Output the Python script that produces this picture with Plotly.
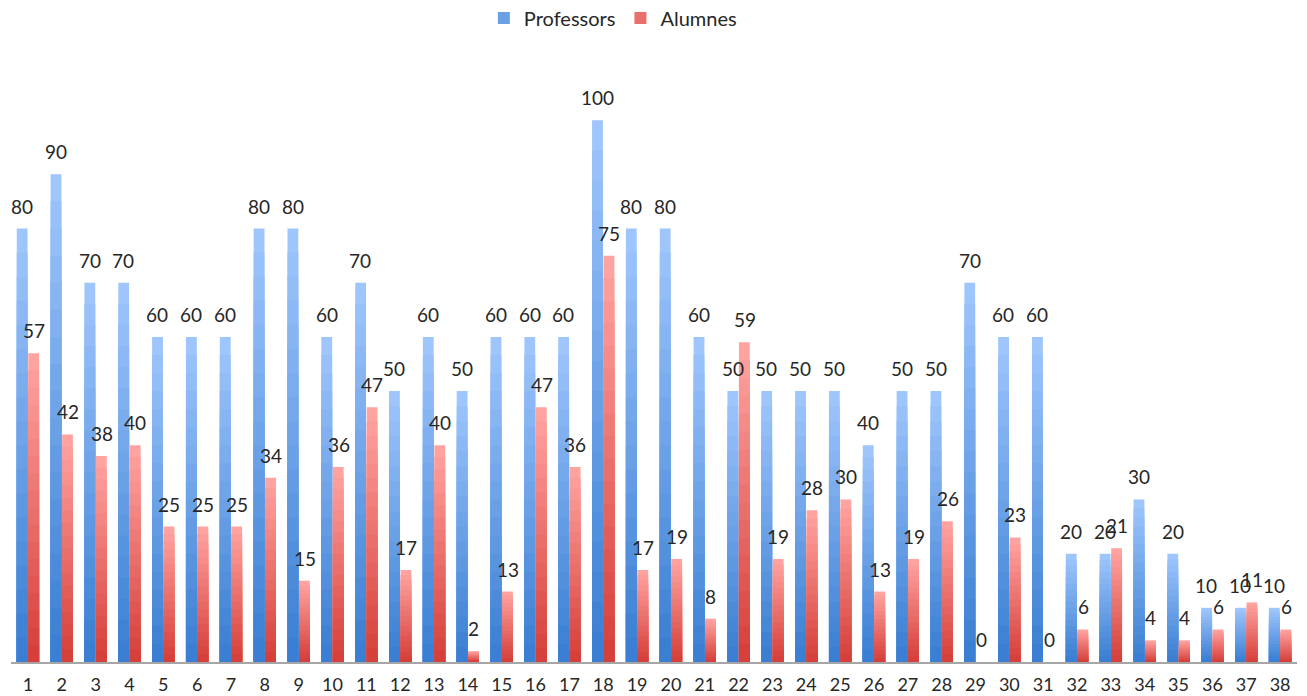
import plotly.graph_objects as go

categories = [str(i) for i in range(1, 39)]
professors = [80, 90, 70, 70, 60, 60, 60, 80, 80, 60, 70, 50, 60, 50, 60, 60, 60, 100, 80, 80,
              60, 50, 50, 50, 50, 40, 50, 50, 70, 60, 60, 20, 20, 30, 20, 10, 10, 10]
alumnes = [57, 42, 38, 40, 25, 25, 25, 34, 15, 36, 47, 17, 40, 2, 13, 47, 36, 75, 17, 19,
           8, 59, 19, 28, 30, 13, 19, 26, 0, 23, 0, 6, 21, 4, 4, 6, 11, 6]
series_names = ["Professors", "Alumnes"]

FONT = "Lato"
TEXT_COLOR = "#262626"
STEPS = 18


def lerp(c1, c2, t):
    a = [int(c1[i:i + 2], 16) for i in (1, 3, 5)]
    b = [int(c2[i:i + 2], 16) for i in (1, 3, 5)]
    return "rgb(%d,%d,%d)" % tuple(round(a[j] + (b[j] - a[j]) * t) for j in range(3))


styles = {
    "Professors": dict(top="#9ec5fc", bottom="#3a7fd3", group="p", shift=-6),
    "Alumnes": dict(top="#ffa3a0", bottom="#d6403a", group="a", shift=6),
}

fig = go.Figure()
for name, vals in zip(series_names, [professors, alumnes]):
    st = styles[name]
    for k in range(STEPS):
        frac = (STEPS - k) / STEPS
        color = lerp(st["top"], st["bottom"], k / (STEPS - 1))
        fig.add_trace(go.Bar(
            x=categories,
            y=[v * frac for v in vals],
            name=name,
            offsetgroup=st["group"],
            legendgroup=name,
            showlegend=(k == STEPS // 2),
            marker=dict(color=color, line=dict(width=0)),
            hoverinfo="skip",
        ))

annotations = []
for name, vals in zip(series_names, [professors, alumnes]):
    st = styles[name]
    for idx, v in enumerate(vals):
        annotations.append(dict(
            x=idx, y=v, xref="x", yref="y", text=str(v), showarrow=False,
            yanchor="bottom", yshift=9, xshift=st["shift"],
            font=dict(family=FONT, size=19, color=TEXT_COLOR),
        ))

fig.update_layout(
    width=1307, height=696,
    margin=dict(l=11, r=10, t=66, b=34, autoexpand=False),
    paper_bgcolor="white", plot_bgcolor="white",
    barmode="group", bargap=0.32, bargroupgap=0.06,
    font=dict(family=FONT, size=18, color=TEXT_COLOR),
    legend=dict(orientation="h", x=0.468, xanchor="center",
                yref="container", y=1 - 18 / 696, yanchor="middle",
                font=dict(family=FONT, size=20, color=TEXT_COLOR),
                itemwidth=30, traceorder="normal"),
    annotations=annotations,
    xaxis=dict(type="category", range=[-0.5, len(categories) - 0.5], autorange=False,
               showgrid=False, showline=True, linecolor="#a6a6a6",
               linewidth=2, ticks="", ticklabelstandoff=5,
               tickfont=dict(family=FONT, size=18, color=TEXT_COLOR)),
    yaxis=dict(range=[0, 110], visible=False, showgrid=False, zeroline=False),
)

fig.write_html(
    "out.html",
    config={"displayModeBar": False},
    post_script="document.body.style.margin='0';document.body.style.padding='0';"
                "document.body.style.overflow='hidden';",
)
